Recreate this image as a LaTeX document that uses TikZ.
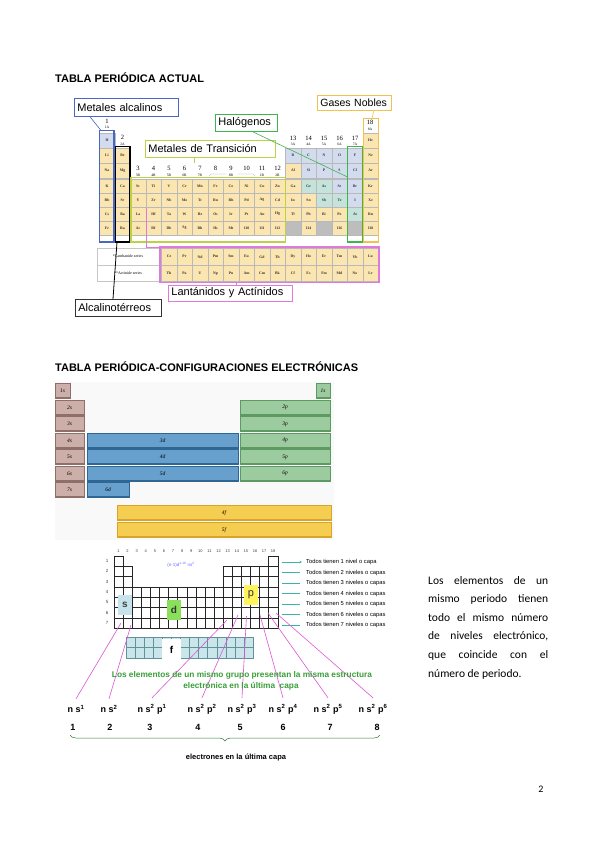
\documentclass[tikz,border=0pt]{standalone}
\usepackage{fontspec}
\setmainfont{Liberation Sans}
\newfontfamily\parfont{Carlito}
\newfontfamily\cfgfont{Liberation Serif}
\usetikzlibrary{decorations.pathreplacing,arrows.meta}
\newcommand{\fs}[1]{\fontsize{#1}{#1}\selectfont}
\definecolor{cellbg}{HTML}{FBE5B1}
\definecolor{celllb}{HTML}{D3DBEF}
\definecolor{celltl}{HTML}{C5E3DA}
\definecolor{cellgr}{HTML}{BDBDBD}
\definecolor{alkblue}{HTML}{4A66C4}
\definecolor{transgr}{HTML}{BCD245}
\definecolor{halgr}{HTML}{3DB54A}
\definecolor{noblegold}{HTML}{F2C24F}
\definecolor{lanpink}{HTML}{DE7ADB}
\definecolor{sfill}{HTML}{CBAFA8}\definecolor{sdark}{HTML}{8E6F69}
\definecolor{dfill}{HTML}{679FCD}\definecolor{ddark}{HTML}{2E6794}
\definecolor{pfill}{HTML}{9CCB9F}\definecolor{pdark}{HTML}{5C9A61}
\definecolor{ffill}{HTML}{F5CD50}\definecolor{fdark}{HTML}{D7A52A}
\definecolor{violetline}{HTML}{DD55D5}
\definecolor{tealline}{HTML}{3BB3A8}
\definecolor{grtext}{HTML}{3A9E3A}
\definecolor{sbox}{HTML}{C6E2EA}
\definecolor{dbox}{HTML}{8BE05B}
\definecolor{pbox}{HTML}{FFF45C}
\definecolor{fcell}{HTML}{CBE6EA}
\definecolor{fline}{HTML}{5F9399}
\newcommand{\pel}[4]{%
  \pgfmathsetmacro{\px}{99.25+(#1-0.5)*15.5}%
  \pgfmathsetmacro{\py}{ifthenelse(#2<4,140.5+(#2-1)*15,186+(#2-4)*14)}%
  \pgfmathsetmacro{\ph}{ifthenelse(#2<4,15,14)}%
  \node[pcell, fill=#4, minimum height=\ph pt] (pt-#1-#2) at (\px,\py) {#3};}
\newcommand{\blk}[7]{\node[#6, minimum width={#4pt-#2pt}, minimum height={#5pt-#3pt}] (#1) at ({(#2+#4)/2},{(#3+#5)/2}) {#7};}
\begin{document}
\begin{tikzpicture}[x=1pt,y=-1pt,
  pcell/.style={rectangle, draw=gray!55, line width=0.3pt, minimum width=15.5pt, inner sep=0, font=\cfgfont\bfseries\fs{3.8}, text=black!80},
  glab/.style={inner sep=0, font=\cfgfont\fs{6.5}},
  gsub/.style={inner sep=0, font=\cfgfont\fs{3.6}},
  lbl/.style={draw, line width=0.8pt, fill=white, anchor=north west, inner xsep=3pt, inner ysep=0pt, font=\fs{11}, align=left},
  blkbase/.style={rectangle, inner sep=0, font=\cfgfont\itshape\fs{5.5}, line width=0.4pt},
  sblk/.style={blkbase, fill=sfill, draw=sdark, path picture={\draw[sdark, line width=2.5pt] (path picture bounding box.south west) -- (path picture bounding box.south east);\draw[white, opacity=0.5, line width=1.5pt] (path picture bounding box.north west) -- (path picture bounding box.north east);}},
  dblk/.style={blkbase, fill=dfill, draw=ddark, path picture={\draw[ddark, line width=2.5pt] (path picture bounding box.south west) -- (path picture bounding box.south east);\draw[white, opacity=0.4, line width=1.5pt] (path picture bounding box.north west) -- (path picture bounding box.north east);}},
  pblk/.style={blkbase, fill=pfill, draw=pdark, path picture={\draw[pdark, line width=2.5pt] (path picture bounding box.south west) -- (path picture bounding box.south east);\draw[white, opacity=0.4, line width=1.5pt] (path picture bounding box.north west) -- (path picture bounding box.north east);}},
  fblk/.style={blkbase, fill=ffill, draw=fdark, path picture={\draw[fdark, line width=2.5pt] (path picture bounding box.south west) -- (path picture bounding box.south east);\draw[white, opacity=0.4, line width=1.5pt] (path picture bounding box.north west) -- (path picture bounding box.north east);}},
  gridl/.style={draw=black!85, line width=0.45pt},
  viol/.style={draw=violetline, line width=0.6pt},
  tline/.style={draw=tealline, line width=0.7pt},
  nslab/.style={inner sep=0, font=\bfseries\fs{9}},
  numlab/.style={inner sep=0, font=\bfseries\fs{9}}]
\path[use as bounding box, fill=white] (0,0) rectangle (599,848);

% ---------- Titles ----------
\node[anchor=base west, inner sep=0, font=\bfseries\fs{11}] (t1) at (55,83) {TABLA PERIÓDICA ACTUAL};
\node[anchor=base west, inner sep=0, font=\bfseries\fs{11}] (t2) at (55,371) {TABLA PERIÓDICA-CONFIGURACIONES ELECTRÓNICAS};

% ---------- Periodic table ----------
\pel{1}{1}{H}{celllb}\pel{18}{1}{He}{cellbg}
\foreach \c/\s/\f in {1/Li/cellbg,2/Be/cellbg,13/B/celllb,14/C/celllb,15/N/celllb,16/O/celllb,17/F/celllb,18/Ne/cellbg}{\pel{\c}{2}{\s}{\f}}
\foreach \c/\s/\f in {1/Na/cellbg,2/Mg/cellbg,13/Al/cellbg,14/Si/celllb,15/P/celllb,16/S/celllb,17/Cl/celllb,18/Ar/cellbg}{\pel{\c}{3}{\s}{\f}}
\foreach \c/\s/\f in {1/K/cellbg,2/Ca/cellbg,3/Sc/cellbg,4/Ti/cellbg,5/V/cellbg,6/Cr/cellbg,7/Mn/cellbg,8/Fe/cellbg,9/Co/cellbg,10/Ni/cellbg,11/Cu/cellbg,12/Zn/cellbg,13/Ga/cellbg,14/Ge/celltl,15/As/celltl,16/Se/celllb,17/Br/celllb,18/Kr/cellbg}{\pel{\c}{4}{\s}{\f}}
\foreach \c/\s/\f in {1/Rb/cellbg,2/Sr/cellbg,3/Y/cellbg,4/Zr/cellbg,5/Nb/cellbg,6/Mo/cellbg,7/Tc/cellbg,8/Ru/cellbg,9/Rh/cellbg,10/Pd/cellbg,11/Ag/cellbg,12/Cd/cellbg,13/In/cellbg,14/Sn/cellbg,15/Sb/celltl,16/Te/celltl,17/I/celllb,18/Xe/cellbg}{\pel{\c}{5}{\s}{\f}}
\foreach \c/\s/\f in {1/Cs/cellbg,2/Ba/cellbg,3/La/cellbg,4/Hf/cellbg,5/Ta/cellbg,6/W/cellbg,7/Re/cellbg,8/Os/cellbg,9/Ir/cellbg,10/Pt/cellbg,11/Au/cellbg,12/Hg/cellbg,13/Tl/cellbg,14/Pb/cellbg,15/Bi/cellbg,16/Po/cellbg,17/At/celltl,18/Rn/cellbg}{\pel{\c}{6}{\s}{\f}}
\foreach \c/\s/\f in {1/Fr/cellbg,2/Ra/cellbg,3/Ac/cellbg,4/Rf/cellbg,5/Db/cellbg,6/Sg/cellbg,7/Bh/cellbg,8/Hs/cellbg,9/Mt/cellbg,10/110/cellbg,11/111/cellbg,12/112/cellbg,13/{}/cellgr,14/114/cellbg,15/{}/cellgr,16/116/cellbg,17/{}/cellgr,18/118/cellbg}{\pel{\c}{7}{\s}{\f}}

% group labels
\node[glab] (g1) at (107,121) {1}; \node[gsub] (g1a) at (107,127.5) {1A};
\node[glab] (g2) at (122.5,137.5) {2}; \node[gsub] (g2a) at (122.5,144) {2A};
\node[glab] (g18) at (370,122.5) {18}; \node[gsub] (g18a) at (370,129) {8A};
\foreach \c/\a in {13/3A,14/4A,15/5A,16/6A,17/7A}{
  \node[glab] (g\c) at ({99.25+(\c-0.5)*15.5},138) {\c};
  \node[gsub] (g\c a) at ({99.25+(\c-0.5)*15.5},144.5) {\a};}
\foreach \c in {3,...,12}{\node[glab] (g\c) at ({99.25+(\c-0.5)*15.5},168.5) {\c};}
\foreach \c/\a in {3/3B,4/4B,5/5B,6/6B,7/7B,9/8B,11/1B,12/2B}{\node[gsub] (g\c b) at ({99.25+(\c-0.5)*15.5},175) {\a};}
\draw[gray!70, line width=0.3pt] (209,176) -- (211,174) -- (226,174);
\draw[gray!70, line width=0.3pt] (238,174) -- (253,174) -- (255,176);

% lanthanides / actinides
\draw[gray!45, line width=0.4pt] (97,248) rectangle (160,281.5);
\draw[gray!45, line width=0.4pt] (97,265) -- (160,265);
\node[inner sep=0, font=\cfgfont\fs{4}] (lser) at (128,256.5) {*Lanthanide series};
\node[inner sep=0, font=\cfgfont\fs{4}] (aser) at (128,273) {**Actinide series};
\foreach \s [count=\i from 0] in {Ce,Pr,Nd,Pm,Sm,Eu,Gd,Tb,Dy,Ho,Er,Tm,Yb,Lu}{\node[pcell, fill=cellbg, minimum height=16.5pt] (la\i) at ({169+15.5*\i},256.75) {\s};}
\foreach \s [count=\i from 0] in {Th,Pa,U,Np,Pu,Am,Cm,Bk,Cf,Es,Fm,Md,No,Lr}{\node[pcell, fill=cellbg, minimum height=16.5pt] (ac\i) at ({169+15.5*\i},273.25) {\s};}

% group frames
\draw[alkblue, line width=1.5pt] (99.5,130.5) rectangle (114,242);
\draw[black, line width=1.5pt] (115.5,146.5) rectangle (130,242);
\draw[transgr, line width=1.3pt] (131,177.5) rectangle (285.5,242);
\draw[halgr, line width=1.6pt] (347.5,146.5) rectangle (362.5,242);
\draw[noblegold, line width=1.3pt] (363.5,118.5) rectangle (378.5,242);
\draw[lanpink, line width=1.4pt] (160,247) rectangle (379,282.5);

% label boxes
\node[lbl, draw=alkblue, text width=98pt, minimum height=18pt] (lalk) at (74,98) {Metales alcalinos};
\node[lbl, draw=noblegold, text width=68pt, minimum height=15pt, font=\fs{10.5}] (lnob) at (317,95) {Gases Nobles};
\node[lbl, draw=halgr, text width=56pt, minimum height=17pt] (lhal) at (215,114) {Halógenos};
\node[lbl, draw=transgr, text width=124pt, minimum height=17pt] (ltra) at (145,139.5) {Metales de Transición};
\node[lbl, draw=lanpink, text width=118pt, minimum height=16pt] (llan) at (168,284.5) {Lantánidos y Actínidos};
\node[lbl, draw=black!80, line width=0.6pt, text width=80pt, minimum height=17pt] (lalc) at (75,299) {Alcalinotérreos};

% connectors
\coordinate (calk) at (101,130.5);
\draw[alkblue, line width=0.6pt] ([xshift=16pt]lalk.south west) -- (calk);
\coordinate (chal) at (347.5,177);
\draw[halgr, line width=0.6pt] ([xshift=-25pt]lhal.south east) -- (chal);
\coordinate (cnob) at (372,118.5);
\draw[noblegold, line width=0.6pt] ([xshift=-18pt]lnob.south east) -- (cnob);
\coordinate (ctra) at (194,163);
\draw[transgr, line width=0.4pt] ([xshift=49pt]ltra.south west) -- (ctra);
\coordinate (cla) at (146,208);
\coordinate (clb) at (160,247);
\draw[lanpink, line width=1pt] (cla) |- (clb);
\coordinate (clan) at (236,282.5);
\draw[lanpink, line width=0.8pt] (clan) -- (clan |- llan.north);
\coordinate (calc) at (117,242);
\draw[black, line width=0.8pt] (calc) -- ([xshift=38pt]lalc.north west);

% ---------- Configuration table ----------
\fill[gray!5] (55,382) rectangle (334,540);
\blk{s1}{55}{383}{70}{398}{sblk}{1s}
\blk{s2}{55}{400}{84}{415}{sblk}{2s}
\blk{s3}{55}{416.5}{84}{431.5}{sblk}{3s}
\blk{s4}{55}{433}{84}{448}{sblk}{4s}
\blk{s5}{55}{449.5}{84}{464.5}{sblk}{5s}
\blk{s6}{55}{466}{84}{481}{sblk}{6s}
\blk{s7}{55}{482.5}{84}{497.5}{sblk}{7s}
\blk{he}{316}{383}{330}{398}{pblk}{1s}
\blk{p2}{240}{400}{330}{415}{pblk}{2p}
\blk{p3}{240}{416.5}{330}{431.5}{pblk}{3p}
\blk{p4}{240}{433}{330}{448}{pblk}{4p}
\blk{p5}{240}{449.5}{330}{464.5}{pblk}{5p}
\blk{p6}{240}{466}{330}{481}{pblk}{6p}
\blk{d3}{87}{433}{238}{448}{dblk}{3d}
\blk{d4}{87}{449.5}{238}{464.5}{dblk}{4d}
\blk{d5}{87}{466}{238}{481}{dblk}{5d}
\blk{d6}{87}{482.5}{129}{497.5}{dblk}{6d}
\blk{f4}{117}{505}{331}{520.5}{fblk}{4f}
\blk{f5}{117}{522}{331}{537.5}{fblk}{5f}

% ---------- Block scheme ----------
\foreach \c in {1,...,18}{\node[inner sep=0, font=\fs{4}, text=black!75] (cn\c) at ({118.5+(\c-1)*9.1},551.5) {\c};}
\foreach \r in {1,...,7}{\node[inner sep=0, font=\fs{4.5}, text=black!75] (rn\r) at (107,{561+(\r-1)*10.3}) {\r};}
\foreach \c in {1,18}{\draw[gridl] ({114+(\c-1)*9.1},556) rectangle ++(9.1,10.3);}
\foreach \r in {2,3}{\foreach \c in {1,2,13,14,15,16,17,18}{\draw[gridl] ({114+(\c-1)*9.1},{556+(\r-1)*10.3}) rectangle ++(9.1,10.3);}}
\foreach \r in {4,...,7}{\foreach \c in {1,...,18}{\draw[gridl] ({114+(\c-1)*9.1},{556+(\r-1)*10.3}) rectangle ++(9.1,10.3);}}
\node[inner sep=0, font=\fs{4.5}, text=blue!60] (dform) at (181,564.5) {(n-1)d\textsuperscript{1-10} ns\textsuperscript{2}};
\node[fill=sbox, minimum width=14pt, minimum height=20pt, inner sep=0, font=\bfseries\fs{10}, text=black!75] (sb) at (125,605) {s};
\node[fill=dbox, minimum width=14pt, minimum height=20pt, inner sep=0, font=\bfseries\fs{10}, text=black!80] (db) at (174,610) {d};
\node[fill=pbox, minimum width=14pt, minimum height=20pt, inner sep=0, font=\fs{11}, text=black!80] (pb) at (251,595) {p};
% f block
\foreach \r in {0,1}{\foreach \c in {0,...,13}{\draw[fill=fcell, draw=fline, line width=0.4pt] ({126+\c*9.07},{637+\r*10.5}) rectangle ++(9.07,10.5);}}
\node[fill=white, minimum width=18.1pt, minimum height=22pt, inner sep=0, font=\bfseries\fs{10}] (fb) at (171.5,650) {f};

% teal level lines
\foreach \r/\t in {1/{Todos tienen 1 nivel o capa},2/{Todos tienen 2 niveles o capas},3/{Todos tienen 3 niveles o capas},4/{Todos tienen 4 niveles  o capas},5/{Todos tienen 5 niveles o capas},6/{Todos tienen 6 niveles o capas},7/{Todos tienen 7 niveles o capas}}{
  \node[anchor=west, inner sep=0, font=\fs{5.8}] (tt\r) at (306,{562+(\r-1)*10.5}) {\t};
  \coordinate (tl\r) at (282,{562+(\r-1)*10.5});}
\draw[tline, -{Stealth[length=2.5pt,width=2.2pt]}] (tl1) -- ([xshift=-4pt]tt1.west);
\foreach \r in {2,...,7}{\draw[tline] (tl\r) -- ([xshift=-6pt]tt\r.west);}

% labels
\node[nslab] (ns1) at (76,709) {n s\textsuperscript{1}};
\node[nslab] (ns2) at (109,709) {n s\textsuperscript{2}};
\node[nslab] (ns3) at (152,709) {n s\textsuperscript{2} p\textsuperscript{1}};
\node[nslab] (ns4) at (202,709) {n s\textsuperscript{2} p\textsuperscript{2}};
\node[nslab] (ns5) at (242,709) {n s\textsuperscript{2} p\textsuperscript{3}};
\node[nslab] (ns6) at (283,709) {n s\textsuperscript{2} p\textsuperscript{4}};
\node[nslab] (ns7) at (328,709) {n s\textsuperscript{2} p\textsuperscript{5}};
\node[nslab] (ns8) at (373,709) {n s\textsuperscript{2} p\textsuperscript{6}};
\foreach \i/\x in {1/73,2/110,3/150,4/198,5/240,6/283,7/330,8/377}{\node[numlab] (nm\i) at (\x,727) {\i};}

% violet lines
\coordinate (v1) at (121,623); \coordinate (v2) at (131,625);
\coordinate (v3) at (227,620); \coordinate (v4) at (238,615);
\coordinate (v5) at (246.5,616); \coordinate (v6) at (260,615);
\coordinate (v7) at (268,613); \coordinate (v8) at (276,613);
\foreach \i in {1,...,8}{\draw[viol] (v\i) -- ([yshift=6pt]ns\i.north);}

% green text
\node[inner sep=0, font=\bfseries\fs{8.3}, text=grtext] (gt1) at (242,675) {Los elementos de un mismo grupo presentan la misma estructura};
\node[inner sep=0, font=\bfseries\fs{8.3}, text=grtext] (gt2) at (241,686) {electrónica en la última\ \ capa};

% brace
\coordinate (br1) at (380,735); \coordinate (br2) at (70,735);
\draw[decorate, decoration={brace, amplitude=6pt}, draw=gray!60!green!70!black, line width=0.5pt] (br1) -- (br2);
\node[inner sep=0, font=\bfseries\fs{7.5}] (cap) at (236,758) {electrones en la última capa};

% ---------- Right paragraph ----------
\node[anchor=base west, inner sep=0] (para) at (428,584) {\parbox[t]{120pt}{\parfont\fontsize{11.5}{18.6}\selectfont\raggedright
\makebox[120pt][s]{Los elementos de un}\\
\makebox[120pt][s]{mismo periodo tienen}\\
\makebox[120pt][s]{todo el mismo número}\\
\makebox[120pt][s]{de niveles electrónico,}\\
\makebox[120pt][s]{que coincide con el}\\
número de periodo.}};

\node[inner sep=0, font=\parfont\fs{10}] (pg) at (541,789) {2};
\end{tikzpicture}
\end{document}
